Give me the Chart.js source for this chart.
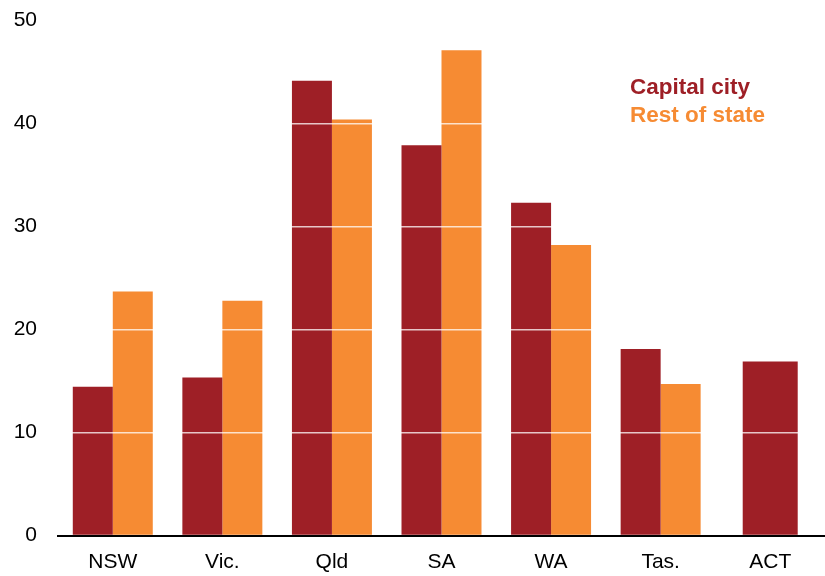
<!DOCTYPE html>
<html>
<head>
<meta charset="utf-8">
<script src="https://cdn.jsdelivr.net/npm/chart.js@4"></script>
<style>
  html, body { margin: 0; padding: 0; background: #fff; }
  #wrap { width: 825px; height: 576px; }
</style>
</head>
<body>
<div id="wrap"><canvas id="chart"></canvas></div>
<script>
const states = ['NSW', 'Vic.', 'Qld', 'SA', 'WA', 'Tas.', 'ACT'];
const capitalCity = [14.45, 15.35, 44.15, 37.9, 32.3, 18.1, 16.9];
const restOfState = [23.7, 22.8, 40.4, 47.1, 28.2, 14.7, null];
const yTicks = [0, 10, 20, 30, 40, 50];

const RED = '#9e1f26';
const ORANGE = '#f68b33';
const FONT = '"Liberation Sans", Arial, sans-serif';

// legend is just coloured text in the top right of the plot
const textLegend = {
    id: 'textLegend',
    afterDraw(chart) {
        const { ctx } = chart;
        ctx.save();
        ctx.font = 'bold 22.5px ' + FONT;
        ctx.textBaseline = 'middle';
        ctx.textAlign = 'left';
        chart.data.datasets.forEach((ds, i) => {
            ctx.fillStyle = ds.backgroundColor;
            ctx.fillText(ds.label, 630, 88 + i * 28);
        });
        ctx.restore();
    }
};

new Chart(document.getElementById('chart').getContext('2d'), {
    type: 'bar',
    data: {
        labels: states,
        datasets: [
            // ACT has no "rest of state", its single bar is centred and a bit wider
            { label: 'Capital city', data: capitalCity, backgroundColor: RED, maxBarThickness: 55 },
            { label: 'Rest of state', data: restOfState, backgroundColor: ORANGE }
        ]
    },
    options: {
        responsive: true,
        maintainAspectRatio: false,
        animation: false,
        layout: { padding: { top: 20.5, right: -4, left: 0, bottom: 0 } },
        datasets: { bar: { categoryPercentage: 0.73, barPercentage: 1.0, skipNull: true } },
        scales: {
            x: {
                afterFit(scale) { scale.height = 40.5; },
                grid: { display: false },
                border: { display: true, color: '#000', width: 2, z: 2 },
                ticks: {
                    color: '#000',
                    font: { family: FONT, size: 21 },
                    padding: 6
                }
            },
            y: {
                min: 0,
                max: 50,
                afterFit(scale) {
                    scale.width = 58;
                    scale.paddingTop = 0;
                    scale.paddingBottom = 0;
                },
                afterBuildTicks(scale) { scale.ticks = yTicks.map(v => ({ value: v })); },
                // light grid lines sit on top of the bars, none at zero
                grid: {
                    color: c => (c.tick && c.tick.value === 0) ? 'rgba(0,0,0,0)' : 'rgba(255,255,255,0.75)',
                    lineWidth: 1.5,
                    drawTicks: false,
                    z: 1
                },
                border: { display: false },
                ticks: {
                    color: '#000',
                    font: { family: FONT, size: 21 },
                    padding: 21
                }
            }
        },
        plugins: {
            legend: { display: false },
            tooltip: { enabled: false }
        }
    },
    plugins: [textLegend]
});
</script>
</body>
</html>
